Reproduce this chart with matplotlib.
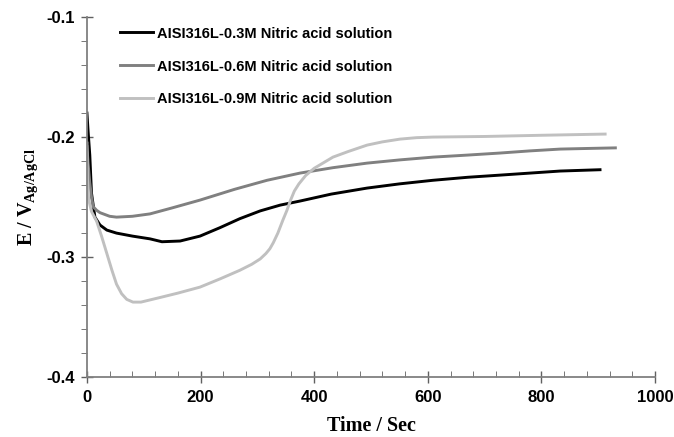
import matplotlib
matplotlib.use("Agg")
import matplotlib.pyplot as plt
from matplotlib.ticker import MultipleLocator, FormatStrFormatter

# OCP curves
t_03 = [0, 2, 5, 8, 14, 23, 35, 52, 80, 111, 132, 164, 199, 234, 269, 305, 340,
        375, 430, 493, 550, 609, 670, 727, 780, 833, 903]
e_03 = [-0.180, -0.195, -0.215, -0.2467, -0.2667, -0.2733, -0.2775, -0.280,
        -0.2825, -0.2848, -0.2872, -0.2866, -0.2825, -0.2755, -0.268, -0.2615,
        -0.2567, -0.2533, -0.2475, -0.2425, -0.239, -0.236, -0.2335, -0.2317,
        -0.230, -0.2283, -0.2272]

t_06 = [0, 2, 5, 8, 11, 17, 23, 40, 52, 80, 111, 150, 199, 260, 317, 375, 433,
        493, 551, 609, 670, 727, 780, 833, 880, 930]
e_06 = [-0.208, -0.222, -0.238, -0.250, -0.258, -0.261, -0.263, -0.266, -0.2667,
        -0.266, -0.264, -0.259, -0.2525, -0.2435, -0.236, -0.230, -0.2255,
        -0.2217, -0.219, -0.2167, -0.215, -0.2133, -0.2115, -0.2100, -0.2095,
        -0.209]

t_09 = [0, 1, 3, 8, 17, 26, 35, 44, 52, 61, 70, 81, 95, 130, 160, 199, 235, 269,
        290, 305, 315, 322, 328, 336, 345, 352, 358, 365, 373, 385, 400, 433,
        460, 493, 520, 551, 580, 609, 700, 800, 912]
e_09 = [-0.205, -0.235, -0.252, -0.262, -0.270, -0.283, -0.297, -0.311, -0.3225,
        -0.3305, -0.3352, -0.3375, -0.3375, -0.3335, -0.330, -0.325, -0.318,
        -0.311, -0.306, -0.3015, -0.297, -0.293, -0.288, -0.280, -0.269,
        -0.261, -0.253, -0.245, -0.239, -0.232, -0.226, -0.2167, -0.212,
        -0.2067, -0.204, -0.2017, -0.2005, -0.200, -0.1995, -0.1985, -0.1975]

labels = ["AISI316L-0.3M Nitric acid solution",
          "AISI316L-0.6M Nitric acid solution",
          "AISI316L-0.9M Nitric acid solution"]
colors = ["#000000", "#808080", "#c0c0c0"]

plt.rcParams["font.family"] = "Liberation Sans"
plt.rcParams["mathtext.fontset"] = "custom"
plt.rcParams["mathtext.rm"] = "Liberation Serif:bold"
plt.rcParams["mathtext.bf"] = "Liberation Serif:bold"

fig = plt.figure(figsize=(6.74, 4.37), dpi=100)
ax = fig.add_axes([0.129, 0.137, 0.843, 0.824])

for t, e, lab, c in zip([t_03, t_06, t_09], [e_03, e_06, e_09], labels, colors):
    ax.plot(t, e, color=c, lw=2.1, label=lab)

ax.set_xlim(0, 1000)
ax.set_ylim(-0.4, -0.1)
ax.xaxis.set_major_locator(MultipleLocator(200))
ax.xaxis.set_minor_locator(MultipleLocator(40))
ax.yaxis.set_major_locator(MultipleLocator(0.1))
ax.yaxis.set_minor_locator(MultipleLocator(0.02))
ax.yaxis.set_major_formatter(FormatStrFormatter("%.1f"))

for s in ["top", "right"]:
    ax.spines[s].set_visible(False)
for s in ["left", "bottom"]:
    ax.spines[s].set_color("#808080")
    ax.spines[s].set_linewidth(1.3)

ax.tick_params(which="major", direction="inout", length=8, width=1, color="#606060",
               labelsize=12, pad=5)
ax.tick_params(axis="y", which="minor", direction="out", length=4, color="#606060")
ax.tick_params(axis="x", which="minor", direction="in", length=4, color="#606060")
for lb in ax.get_xticklabels() + ax.get_yticklabels():
    lb.set_fontweight("bold")

ax.set_xlabel("Time / Sec", family="Liberation Serif", fontweight="bold",
              fontsize=14.5, labelpad=8)
ax.set_ylabel(r"E / V$_{\mathrm{Ag/AgCl}}$", family="Liberation Serif",
              fontweight="bold", fontsize=14.5, labelpad=4)

leg = ax.legend(loc="upper left", bbox_to_anchor=(0.035, 1.01), frameon=False,
                handlelength=2.3, handletextpad=0.25, labelspacing=1.3,
                prop={"weight": "bold", "size": 10.5})

fig.savefig("out.png", dpi=100)
